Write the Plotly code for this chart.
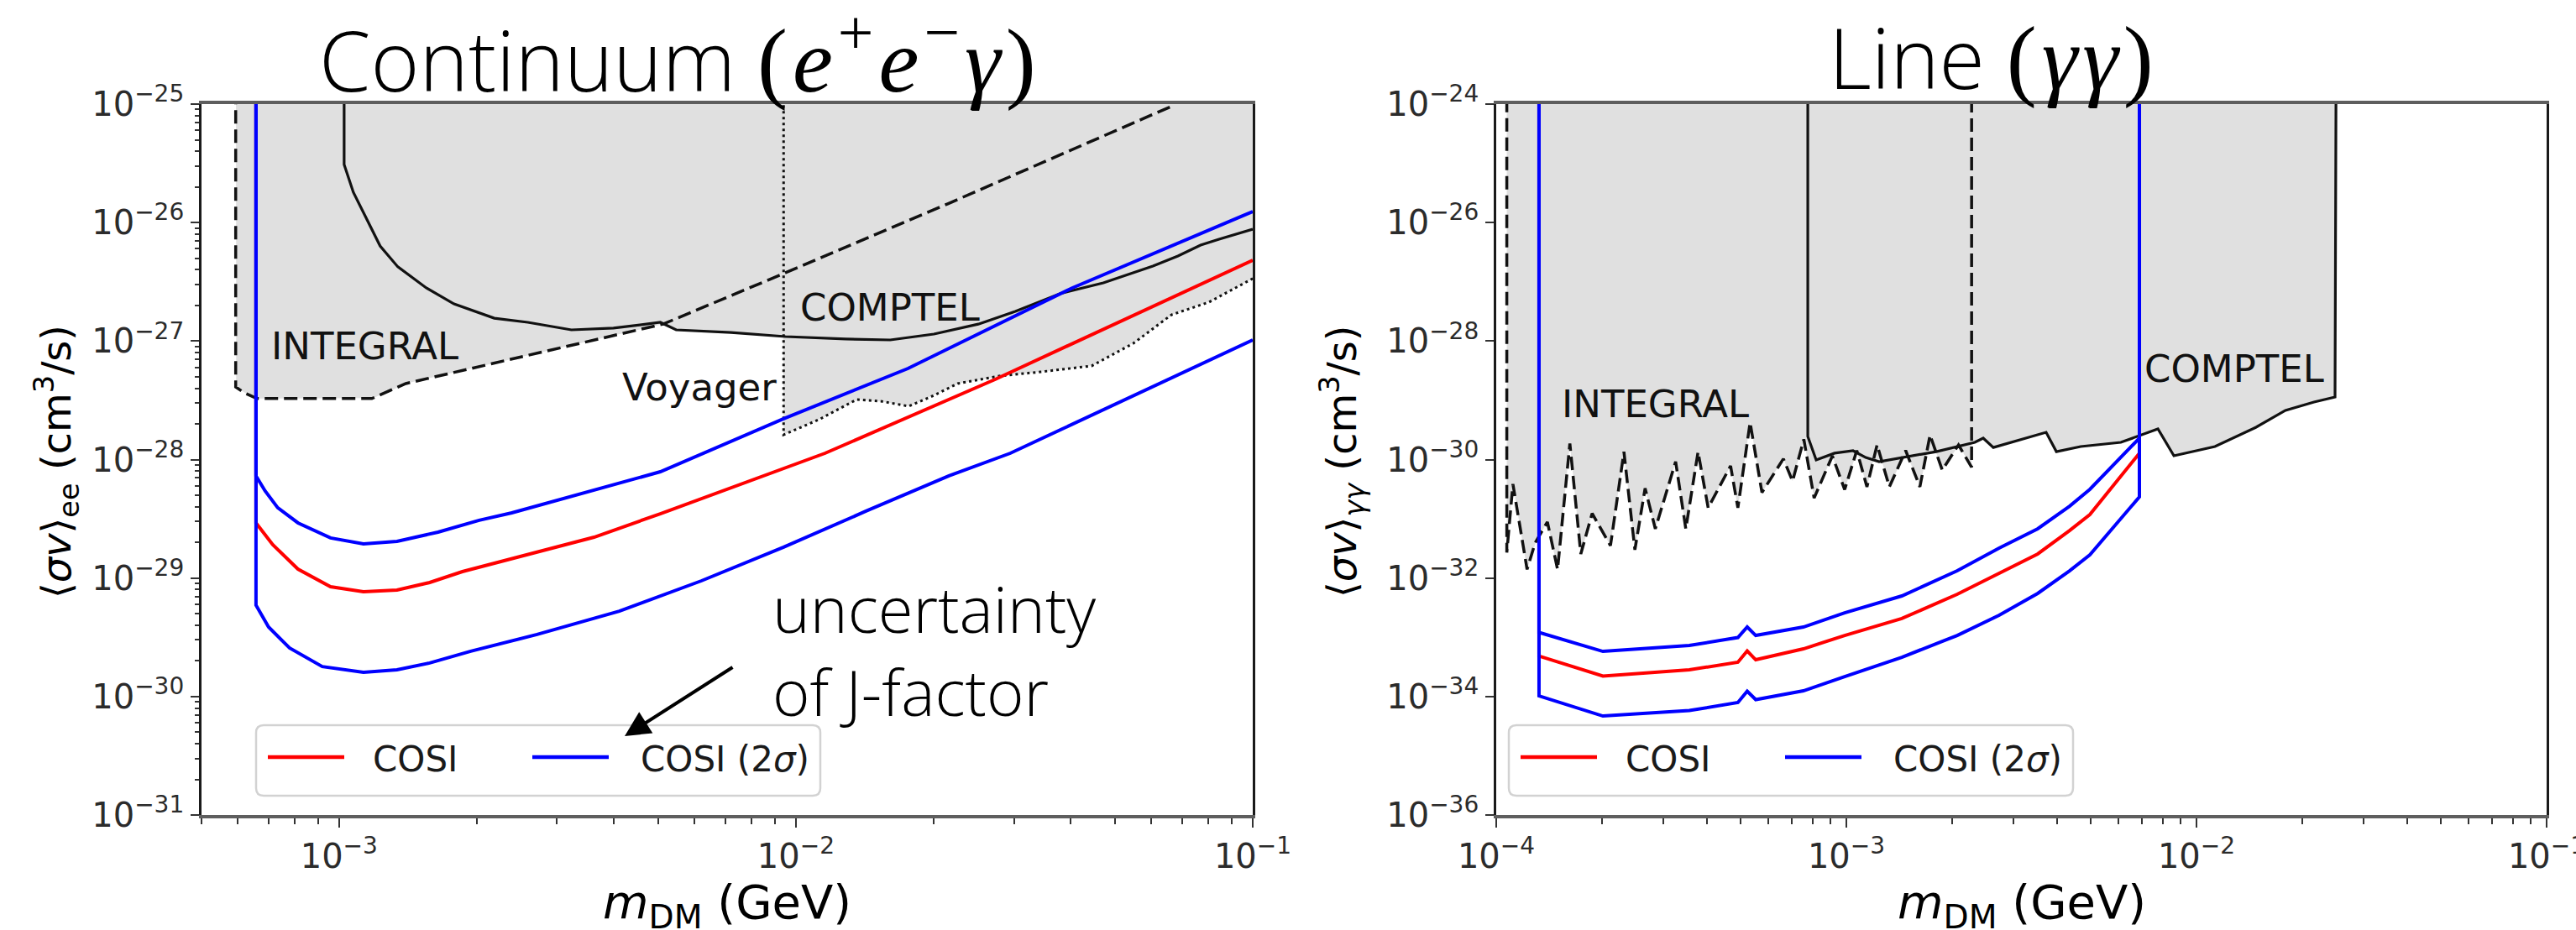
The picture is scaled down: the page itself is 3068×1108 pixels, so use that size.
import numpy as np
import plotly.graph_objects as go

W, H = 3068, 1108
DIV = 1e-20  # stands for the divergent (vertical) end of a limit curve, far above both panels

# ---------------- Left panel: Continuum (e+ e- gamma) ----------------
cont_integral_m = [5.94e-4, 5.94e-4, 6.20e-4, 6.61e-4, 1.18e-3, 1.40e-3, 5.12e-3, 9.49e-3, 2.15e-2, 6.75e-2]
cont_integral_sv = [DIV, 4.10e-28, 3.66e-28, 3.27e-28, 3.27e-28, 4.38e-28, 1.39e-27, 3.77e-27, 1.44e-26, 9.84e-26]

cont_comptel_m = [1.026e-3, 1.026e-3, 1.075e-3, 1.230e-3, 1.345e-3, 1.552e-3, 1.785e-3, 2.187e-3, 2.589e-3,
                  3.226e-3, 3.987e-3, 5.05e-3, 5.47e-3, 7.21e-3, 9.49e-3, 1.286e-2, 1.609e-2, 2.005e-2,
                  2.508e-2, 3.022e-2, 3.781e-2, 4.71e-2, 6.046e-2, 6.86e-2, 7.69e-2, 8.44e-2, 1.0e-1]
cont_comptel_sv = [DIV, 3.09e-26, 1.80e-26, 6.35e-27, 4.23e-27, 2.81e-27, 2.06e-27, 1.56e-27, 1.44e-27,
                   1.243e-27, 1.285e-27, 1.44e-27, 1.243e-27, 1.183e-27, 1.091e-27, 1.04e-27, 1.022e-27, 1.146e-27,
                   1.39e-27, 1.779e-27, 2.51e-27, 3.10e-27, 4.30e-27, 5.22e-27, 6.45e-27, 7.24e-27, 8.80e-27]

cont_voyager_m = [9.40e-3, 9.40e-3, 1.122e-2, 1.358e-2, 1.542e-2, 1.766e-2, 2.005e-2, 2.26e-2, 2.786e-2,
                  3.44e-2, 4.44e-2, 5.48e-2, 6.64e-2, 8.02e-2, 1.0e-1]
cont_voyager_sv = [DIV, 1.62e-28, 2.17e-28, 3.21e-28, 3.10e-28, 2.82e-28, 3.48e-28, 4.38e-28, 5.07e-28,
                   5.50e-28, 6.17e-28, 9.57e-28, 1.667e-27, 2.13e-27, 3.37e-27]

cont_cosi_m = [6.58e-4, 6.58e-4, 7.16e-4, 8.13e-4, 9.58e-4, 1.131e-3, 1.339e-3, 1.579e-3, 1.862e-3,
               2.60e-3, 3.616e-3, 5.05e-3, 7.64e-3, 1.158e-2, 2.73e-2, 1.0e-1]
cont_cosi_sv = [DIV, 2.92e-29, 1.91e-29, 1.19e-29, 8.45e-30, 7.66e-30, 7.92e-30, 9.17e-30, 1.133e-29,
                1.596e-29, 2.21e-29, 3.49e-29, 6.28e-29, 1.13e-28, 4.75e-28, 4.81e-27]

cont_cosi_hi_m = [6.58e-4, 6.58e-4, 6.89e-4, 7.34e-4, 8.13e-4, 9.58e-4, 1.131e-3, 1.339e-3, 1.647e-3,
                  2.026e-3, 2.389e-3, 3.338e-3, 5.05e-3, 9.40e-3, 1.759e-2, 4.03e-2, 1.0e-1]
cont_cosi_hi_sv = [DIV, 7.28e-29, 5.43e-29, 3.92e-29, 2.92e-29, 2.18e-29, 1.94e-29, 2.04e-29, 2.44e-29,
                   3.07e-29, 3.55e-29, 5.08e-29, 7.89e-29, 2.21e-28, 5.87e-28, 2.81e-27, 1.24e-26]

cont_cosi_lo_m = [6.58e-4, 6.58e-4, 7.01e-4, 7.79e-4, 9.19e-4, 1.131e-3, 1.339e-3, 1.579e-3, 1.942e-3,
                  2.713e-3, 4.107e-3, 6.21e-3, 9.40e-3, 1.424e-2, 2.163e-2, 2.946e-2, 1.0e-1]
cont_cosi_lo_sv = [DIV, 5.90e-30, 3.86e-30, 2.57e-30, 1.79e-30, 1.60e-30, 1.68e-30, 1.92e-30, 2.41e-30,
                   3.34e-30, 5.26e-30, 9.47e-30, 1.82e-29, 3.67e-29, 7.28e-29, 1.13e-28, 1.022e-27]

# ---------------- Right panel: Line (gamma gamma) ----------------
line_integral_m = [1.072e-4, 1.072e-4, 1.116e-4, 1.225e-4, 1.292e-4, 1.400e-4, 1.497e-4, 1.623e-4, 1.744e-4,
                   1.879e-4, 2.120e-4, 2.316e-4, 2.489e-4, 2.662e-4, 2.847e-4, 3.254e-4, 3.479e-4, 3.771e-4,
                   4.03e-4, 4.67e-4, 4.90e-4, 5.31e-4, 5.74e-4, 6.61e-4, 7.02e-4, 7.56e-4, 8.09e-4, 9.12e-4,
                   9.89e-4, 1.071e-3, 1.145e-3, 1.224e-3, 1.327e-3, 1.477e-3, 1.622e-3, 1.734e-3, 1.879e-3,
                   2.091e-3, 2.279e-3, 2.279e-3]
line_integral_sv = [DIV, 2.69e-32, 3.85e-31, 1.40e-32, 3.93e-32, 8.87e-32, 1.40e-32, 1.87e-30, 2.55e-32,
                    1.23e-31, 3.52e-32, 1.35e-30, 3.00e-32, 3.27e-31, 6.78e-32, 9.20e-31, 6.78e-32, 1.35e-30,
                    1.53e-31, 7.82e-31, 1.53e-31, 4.23e-30, 2.78e-31, 1.03e-30, 4.31e-31, 2.20e-30, 2.24e-31,
                    1.15e-30, 3.11e-31, 1.42e-30, 3.46e-31, 1.77e-30, 3.46e-31, 1.42e-30, 3.46e-31, 2.59e-30,
                    6.65e-31, 1.77e-30, 7.40e-31, DIV]

line_comptel_m = [7.76e-4, 7.76e-4, 8.20e-4, 9.25e-4, 1.045e-3, 1.136e-3, 1.240e-3, 1.806e-3, 2.327e-3,
                  2.460e-3, 2.629e-3, 3.72e-3, 3.98e-3, 4.67e-3, 6.08e-3, 6.57e-3, 7.76e-3, 8.62e-3,
                  1.129e-2, 1.480e-2, 1.795e-2, 2.166e-2, 2.487e-2, 2.515e-2]
line_comptel_sv = [DIV, 2.45e-30, 9.84e-31, 1.28e-30, 1.41e-30, 1.08e-30, 9.20e-31, 1.36e-30, 1.95e-30,
                   2.30e-30, 1.60e-30, 2.88e-30, 1.36e-30, 1.66e-30, 1.95e-30, 2.30e-30, 3.29e-30, 1.16e-30,
                   1.66e-30, 3.51e-30, 6.75e-30, 9.33e-30, 1.135e-29, DIV]

line_cosi_m = [1.325e-4, 1.325e-4, 2.017e-4, 3.56e-4, 4.90e-4, 5.21e-4, 5.51e-4, 7.54e-4, 9.89e-4,
               1.440e-3, 2.073e-3, 2.731e-3, 3.52e-3, 4.34e-3, 4.96e-3, 6.87e-3, 6.87e-3]
line_cosi_sv = [DIV, 4.83e-34, 2.21e-34, 2.82e-34, 3.79e-34, 5.87e-34, 4.17e-34, 6.38e-34, 1.074e-33,
                2.07e-33, 5.32e-33, 1.20e-32, 2.55e-32, 6.34e-32, 1.18e-31, 1.28e-30, DIV]
line_cosi_hi_sv = [DIV, 1.205e-33, 5.78e-34, 7.26e-34, 9.91e-34, 1.49e-33, 1.074e-33, 1.49e-33, 2.59e-33,
                   4.98e-33, 1.325e-32, 3.20e-32, 6.78e-32, 1.63e-31, 3.14e-31, 2.30e-30, DIV]
line_cosi_lo_sv = [DIV, 1.026e-34, 4.69e-35, 5.79e-35, 7.91e-35, 1.228e-34, 8.87e-35, 1.248e-34, 2.17e-34,
                   4.60e-34, 1.074e-33, 2.35e-33, 5.50e-33, 1.325e-32, 2.47e-32, 2.34e-31, DIV]

# tick exponents
cont_x_exps = [-3, -2, -1]
cont_y_exps = [-31, -30, -29, -28, -27, -26, -25]
line_x_exps = [-4, -3, -2, -1]
line_y_exps = [-36, -34, -32, -30, -28, -26, -24]

legend_names = ["COSI", "COSI (2<i>σ</i>)"]

# ---------------- helpers ----------------
def px(x):
    return x / W


def py(y):
    return 1 - y / H


def excluded_region(curves):
    """Polygon of the region above the lowest of the given limit curves."""
    pts = []
    for cx, cy in curves:
        cx = np.asarray(cx, float)
        cy = np.asarray(cy, float)
        keep = cy < 1e-21
        pts.append((np.log10(cx[keep]), np.log10(cy[keep])))
    lo = min(p[0].min() for p in pts)
    hi = max(p[0].max() for p in pts)
    grid = np.unique(np.concatenate([np.linspace(lo, hi, 2000)] + [p[0] for p in pts]))
    env = np.full(grid.shape, np.inf)
    for lx, ly in pts:
        inside = (grid >= lx.min() - 1e-12) & (grid <= lx.max() + 1e-12)
        env[inside] = np.minimum(env[inside], np.interp(grid[inside], lx, ly))
    xs = np.concatenate([[grid[0]], grid, [grid[-1]]])
    ys = np.concatenate([[np.log10(DIV)], env, [np.log10(DIV)]])
    return 10 ** xs, 10 ** ys


GREY = "#e0e0e0"
BLACK = "#111111"
RED = "#ff0000"
BLUE = "#0000ff"

fig = go.Figure()


def add_panel(xa, ya, fill_curves, integral, comptel, voyager, cosi, cosi_hi, cosi_lo, cosi_m_hi, cosi_m_lo):
    fx, fy = excluded_region(fill_curves)
    fig.add_trace(go.Scatter(x=fx, y=fy, fill="toself", fillcolor=GREY, mode="lines",
                             line=dict(width=0, color=GREY), hoverinfo="skip", showlegend=False,
                             xaxis=xa, yaxis=ya))
    fig.add_trace(go.Scatter(x=integral[0], y=integral[1], mode="lines", name="INTEGRAL",
                             line=dict(color=BLACK, width=3.5, dash="16px,7px"),
                             showlegend=False, xaxis=xa, yaxis=ya))
    fig.add_trace(go.Scatter(x=comptel[0], y=comptel[1], mode="lines", name="COMPTEL",
                             line=dict(color=BLACK, width=3.2),
                             showlegend=False, xaxis=xa, yaxis=ya))
    if voyager is not None:
        fig.add_trace(go.Scatter(x=voyager[0], y=voyager[1], mode="lines", name="Voyager",
                                 line=dict(color=BLACK, width=3, dash="3px,4px"),
                                 showlegend=False, xaxis=xa, yaxis=ya))
    fig.add_trace(go.Scatter(x=cosi[0], y=cosi[1], mode="lines", name=legend_names[0],
                             line=dict(color=RED, width=4), showlegend=False, xaxis=xa, yaxis=ya))
    fig.add_trace(go.Scatter(x=cosi_m_hi, y=cosi_hi, mode="lines", name=legend_names[1],
                             line=dict(color=BLUE, width=4), showlegend=False, xaxis=xa, yaxis=ya))
    fig.add_trace(go.Scatter(x=cosi_m_lo, y=cosi_lo, mode="lines", name=legend_names[1],
                             line=dict(color=BLUE, width=4), showlegend=False, xaxis=xa, yaxis=ya))


add_panel("x", "y",
          [(cont_integral_m, cont_integral_sv), (cont_comptel_m, cont_comptel_sv),
           (cont_voyager_m, cont_voyager_sv)],
          (cont_integral_m, cont_integral_sv), (cont_comptel_m, cont_comptel_sv),
          (cont_voyager_m, cont_voyager_sv), (cont_cosi_m, cont_cosi_sv),
          cont_cosi_hi_sv, cont_cosi_lo_sv, cont_cosi_hi_m, cont_cosi_lo_m)

add_panel("x2", "y2",
          [(line_integral_m, line_integral_sv), (line_comptel_m, line_comptel_sv)],
          (line_integral_m, line_integral_sv), (line_comptel_m, line_comptel_sv),
          None, (line_cosi_m, line_cosi_sv),
          line_cosi_hi_sv, line_cosi_lo_sv, line_cosi_m, line_cosi_m)

# ---------------- axes ----------------
TICKFONT = dict(family="DejaVu Sans", size=40, color="#2b2b2b")


def pow_ticks(exps):
    return [10.0 ** e for e in exps], ["10<sup>−%d</sup>" % (-e) for e in exps]


def minor_vals(lo_exp, hi_exp):
    return [d * 10.0 ** e for e in range(lo_exp, hi_exp) for d in range(2, 10)]


def xaxis_style(domain, rng, anchor, exps, minor):
    tv, tt = pow_ticks(exps)
    return dict(type="log", domain=domain, range=rng, anchor=anchor, automargin=False,
                tickmode="array", tickvals=tv, ticktext=tt, ticklabeloverflow="allow",
                showgrid=False, zeroline=False,
                showline=True, mirror=True, linecolor="#5e5e5e", linewidth=4,
                ticks="outside", ticklen=11, tickwidth=2, tickcolor="#333333",
                tickfont=TICKFONT,
                minor=dict(ticks="outside", ticklen=7, tickwidth=2, tickcolor="#333333",
                           tickmode="array", tickvals=minor, showgrid=False))


def yaxis_style(domain, rng, anchor, exps, minor):
    tv, tt = pow_ticks(exps)
    d = dict(type="log", domain=domain, range=rng, anchor=anchor, automargin=False,
             tickmode="array", tickvals=tv, ticktext=tt, ticklabeloverflow="allow",
             showgrid=False, zeroline=False,
             showline=True, mirror=True, linecolor="#1a1a1a", linewidth=2.5,
             ticks="outside", ticklen=10, tickwidth=2, tickcolor="#333333",
             tickfont=TICKFONT)
    if minor is not None:
        d["minor"] = dict(ticks="outside", ticklen=5, tickwidth=1.5, tickcolor="#333333",
                          tickmode="array", tickvals=minor, showgrid=False)
    return d


Y_DOM = [py(971), py(124)]
fig.update_layout(
    xaxis=xaxis_style([px(240), px(1492)], [np.log10(5e-4), -1], "y", cont_x_exps, minor_vals(-4, -1)),
    yaxis=yaxis_style(Y_DOM, [-31, -25], "x", cont_y_exps, minor_vals(-31, -25)),
    xaxis2=xaxis_style([px(1782), px(3033)], [-4, -1], "y2", line_x_exps, minor_vals(-4, -1)),
    yaxis2=yaxis_style(Y_DOM, [-36, -24], "x2", line_y_exps, None),
)

# ---------------- legends (drawn as boxes with line samples) ----------------
shapes = []
ann = []
LEGFONT = dict(family="DejaVu Sans", size=42, color="#1a1a1a")


def rounded_box(x0, y0, x1, y1, r=9):
    rx, ry = r / W, r / H
    X0, X1 = px(x0), px(x1)
    Yt, Yb = py(y0), py(y1)
    path = (f"M{X0 + rx},{Yt} L{X1 - rx},{Yt} Q{X1},{Yt} {X1},{Yt - ry} "
            f"L{X1},{Yb + ry} Q{X1},{Yb} {X1 - rx},{Yb} L{X0 + rx},{Yb} "
            f"Q{X0},{Yb} {X0},{Yb + ry} L{X0},{Yt - ry} Q{X0},{Yt} {X0 + rx},{Yt} Z")
    shapes.append(dict(type="path", path=path, xref="paper", yref="paper",
                       line=dict(color="#d2d2d2", width=2.5), fillcolor="rgba(255,255,255,0.9)"))


def legend_at(x0):
    # box spans 672 px, entries placed as in the original legend
    rounded_box(x0, 864, x0 + 672, 948)
    for off, col, name, toff in [(14, RED, legend_names[0], 137), (329, BLUE, legend_names[1], 456)]:
        shapes.append(dict(type="line", xref="paper", yref="paper",
                           x0=px(x0 + off), x1=px(x0 + off + 91), y0=py(902), y1=py(902),
                           line=dict(color=col, width=4.5)))
        ann.append(dict(x=px(x0 + toff), y=py(904), xref="paper", yref="paper", text=name,
                        showarrow=False, font=LEGFONT, xanchor="left", yanchor="middle"))


legend_at(305)
legend_at(1797)

# ---------------- text ----------------
SERIF = "font-family:Liberation Serif;font-size:108px;letter-spacing:6px"
LIGHT = dict(family="Open Sans", size=99, color="black", weight=300)
LABEL = dict(family="DejaVu Sans", size=45, color=BLACK)


def text(x, y, s, font, xanchor="center", yanchor="middle", **kw):
    ann.append(dict(x=px(x), y=py(y), xref="paper", yref="paper", text=s, showarrow=False,
                    font=font, xanchor=xanchor, yanchor=yanchor, **kw))


text(810, 68, "Continuum <span style=\"%s\">(<i>e</i><sup>+</sup><i>e</i><sup>−</sup><i>γ</i>)</span>" % SERIF, LIGHT)
text(2374, 68, "Line <span style=\"%s\">(<i>γγ</i>)</span>" % SERIF, LIGHT)

text(321, 413, "INTEGRAL", LABEL, xanchor="left")
text(927, 462, "Voyager", LABEL, xanchor="right")
text(951, 366, "COMPTEL", LABEL, xanchor="left")
text(1858, 482, "INTEGRAL", LABEL, xanchor="left")
text(2552, 439, "COMPTEL", LABEL, xanchor="left")

AXT = dict(family="DejaVu Sans", size=48, color="black")
text(67, 550, "⟨<i>σv</i>⟩<sub>ee</sub> (cm<sup>3</sup>/s)", AXT, textangle=-90)
text(1598, 550, "⟨<i>σv</i>⟩<sub><i>γγ</i></sub> (cm<sup>3</sup>/s)", AXT, textangle=-90)
XT = dict(family="DejaVu Sans", size=56, color="black")
text(866, 1078, "<i>m</i><sub>DM</sub> (GeV)", XT)
text(2408, 1078, "<i>m</i><sub>DM</sub> (GeV)", XT)

text(918, 774, "uncertainty<br>of J-factor",
     dict(family="Open Sans", size=76, color="black", weight=300), xanchor="left", align="left")
ann.append(dict(x=px(744), y=py(877), xref="paper", yref="paper", text="", showarrow=True,
                ax=130, ay=-83, axref="pixel", ayref="pixel", arrowhead=2, arrowsize=1.5,
                arrowwidth=4, arrowcolor="black", standoff=0))

fig.update_layout(
    annotations=ann,
    shapes=shapes,
    showlegend=False,
    width=W, height=H,
    margin=dict(l=0, r=0, t=0, b=0, autoexpand=False),
    paper_bgcolor="white", plot_bgcolor="white",
    font=dict(family="DejaVu Sans", color="#1a1a1a"),
)

fig.write_html("out.html")
